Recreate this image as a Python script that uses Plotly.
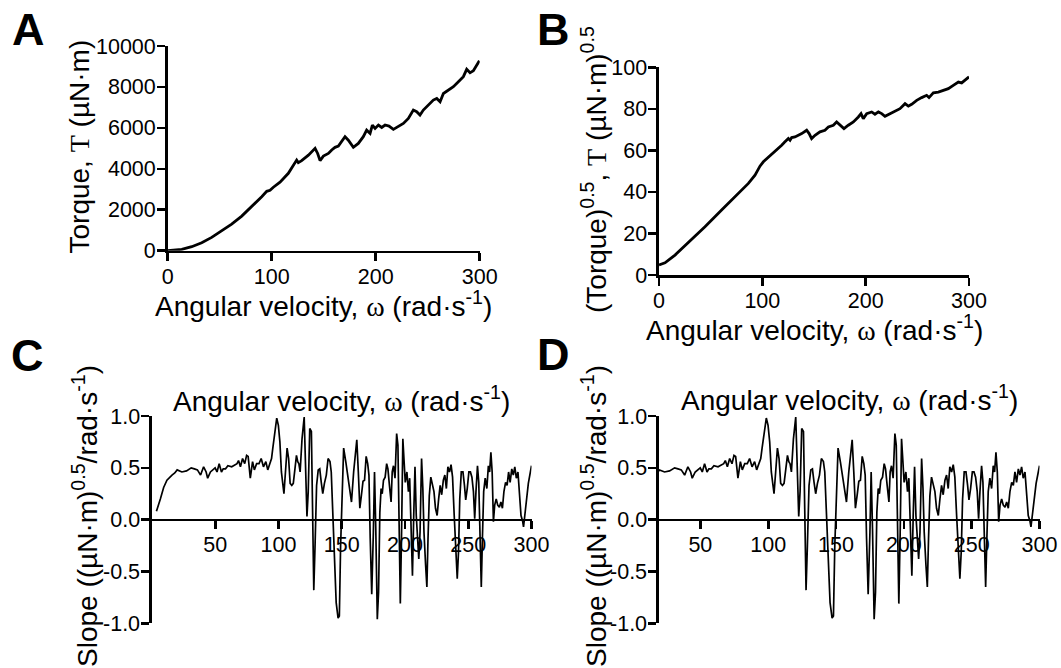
import plotly.graph_objects as go

# ---------------- data ----------------
# Panel A: torque vs angular velocity
omega_A = [0, 13.5, 23.1, 32.7, 42.3, 51.9, 61.5, 71.2, 80.8, 90.4, 95.2, 98.4, 101.6, 106,
           108, 116, 120.8, 124, 125.6, 128.8, 135.3, 141.7, 144.2, 146.5, 149.7, 154.5, 157.7,
           160.9, 164.1, 167.3, 170.5, 173.7, 178.5, 183.3, 188.1, 191.3, 194.6, 196.8, 199.4,
           202.6, 205.8, 209, 212.8, 217, 221.8, 226.6, 231.4, 236.2, 239.4, 242.6, 245.8,
           250.6, 255.4, 258.7, 261.9, 265.1, 269.9, 274.7, 279.5, 284.3, 287.5, 290.7, 293.9,
           297.1, 299.7]
torque_A = [0, 65, 195, 390, 650, 960, 1300, 1690, 2150, 2640, 2900, 2950, 3100, 3300,
            3350, 3780, 4180, 4430, 4300, 4400, 4670, 5000, 4750, 4400, 4620, 4750, 4920,
            5050, 5110, 5320, 5570, 5400, 5050, 5240, 5570, 5890, 5730, 6140, 5975,
            6140, 6020, 6140, 6090, 5925, 6090, 6220, 6460, 6870, 6790, 6630, 6870,
            7110, 7360, 7440, 7280, 7680, 7850, 8010, 8250, 8500, 8860, 8690, 8790,
            9070, 9280]

# Panel B: square root of torque vs angular velocity
omega_B = [0, 5.8, 15.5, 28.4, 44.5, 60.6, 76.8, 86.5, 92.9, 97.7, 101, 105.8, 112.3, 118.7,
           121.9, 125.2, 126.8, 128.4, 131.6, 138.1, 142.9, 145.3, 147.7, 151, 155.8, 160.6,
           163.9, 168.7, 171.9, 175.2, 179, 183.2, 188.1, 192.9, 195.5, 197.7, 201, 205.8,
           209, 212.3, 215.5, 218.7, 223.5, 228.4, 233.2, 238.1, 241.3, 244.5, 249.4, 254.2,
           259, 261.3, 265.5, 270.3, 275.2, 280, 284.8, 289.7, 292.9, 296.1, 300]
sqrt_torque_B = [4.8, 5.9, 9.6, 15.5, 23.2, 31.3, 39.3, 44.1, 48.1, 52.4, 54.5, 56.6, 59.3, 62.5,
                 64.1, 65.7, 64.9, 66.2, 66.5, 68.1, 69.7, 68.1, 65.7, 67.3, 68.9, 69.7,
                 71.3, 72.1, 73.7, 72.1, 70.5, 72.1, 73.7, 76.1, 77.7, 75.3, 77.7, 78.5,
                 77.4, 78.5, 77.7, 76.4, 77.7, 79.0, 80.1, 82.5, 81.3, 82.2, 84.1, 85.4,
                 86.5, 85.4, 87.7, 88.1, 88.9, 89.7, 91.3, 92.9, 92.5, 93.8, 95.4]

# Panels C and D: local slope of sqrt(torque) vs angular velocity
omega_slope = [3.5, 5.0, 6.6, 9.2, 11.8, 15.8, 18.0, 19.9, 23.6, 27.3, 31.0, 33.5, 35.9, 38.4,
               40.8, 42.8, 44.0, 46.2, 48.2, 49.9, 51.4, 53.1, 54.9, 56.3, 58.1, 60.0, 63.0,
               65.4, 67.2, 68.4, 69.9, 71.6, 73.3, 74.8, 76.0, 77.7, 79.5, 80.9, 82.7, 84.6,
               86.3, 88.1, 90.0, 91.5, 93.0, 94.5, 95.5, 96.9, 98.6, 99.9, 101.1, 102.3, 104.3,
               105.5, 106.8, 108.0, 109.2, 110.5, 111.7, 113.0, 114.2, 115.2, 116.1, 117.1,
               118.6, 120.3, 121.3, 122.5, 123.5, 124.7, 126.0, 126.9, 127.9, 128.9, 130.1,
               131.4, 132.6, 133.8, 135.0, 136.3, 137.8, 139.2, 140.7, 141.7, 142.9, 144.2,
               145.6, 147.1, 148.1, 149.1, 150.3, 151.5, 153.3, 155.7, 157.7, 159.4, 160.6,
               161.9, 163.1, 164.3, 165.6, 166.8, 168.0, 169.3, 170.5, 171.5, 172.5, 173.7,
               175.0, 175.9, 176.9, 178.1, 179.1, 180.1, 181.1, 182.0, 183.0, 184.3, 185.5,
               186.5, 187.7, 189.0, 189.9, 190.9, 192.1, 193.4, 194.4, 195.3, 196.3, 197.3,
               198.3, 199.3, 200.2, 201.5, 202.7, 203.7, 204.9, 205.9, 206.9, 207.9, 208.9,
               210.0, 210.9, 211.9, 213.1, 214.1, 215.0, 216.3, 217.3, 218.2, 219.2, 220.4,
               221.7, 222.9, 224.1, 225.4, 226.6, 227.8, 229.0, 230.3, 231.5, 232.7, 233.9,
               235.2, 236.4, 237.6, 238.9, 240.1, 241.3, 242.3, 243.3, 244.5, 245.8, 247.0,
               248.0, 249.2, 250.5, 251.7, 252.9, 254.1, 255.1, 256.1, 257.3, 258.3, 259.3,
               260.3, 261.2, 262.2, 263.4, 264.7, 265.9, 266.9, 267.9, 268.9, 269.9, 270.9,
               272.1, 273.3, 274.6, 275.8, 277.0, 278.2, 279.5, 280.7, 281.9, 283.1, 284.4,
               285.6, 286.8, 288.0, 289.3, 290.5, 291.7, 292.9, 293.7, 294.7, 295.7, 297.5,
               300.0]
slope = [0.08, 0.15, 0.20, 0.31, 0.38, 0.43, 0.45, 0.48, 0.46, 0.47, 0.50, 0.49, 0.48, 0.43,
         0.51, 0.46, 0.40, 0.46, 0.48, 0.50, 0.46, 0.54, 0.46, 0.49, 0.49, 0.52, 0.51,
         0.53, 0.54, 0.57, 0.51, 0.59, 0.54, 0.62, 0.61, 0.40, 0.56, 0.48, 0.54, 0.54,
         0.59, 0.51, 0.56, 0.48, 0.54, 0.59, 0.69, 0.82, 0.98, 0.91, 0.75, 0.46, 0.25,
         0.46, 0.69, 0.59, 0.35, 0.33, 0.35, 0.49, 0.62, 0.56, 0.54, 0.46,
         0.78, 0.99, 0.62, 0.03, 0.27, 0.88, 0.85, 0.01, -0.68, -0.25, 0.33,
         0.48, 0.49, 0.36, 0.25, 0.35, 0.43, 0.59, 0.56, 0.46, 0.04, -0.41,
         -0.80, -0.95, -0.93, -0.25, 0.14, 0.69, 0.55, 0.33, 0.17, 0.46, 0.62,
         0.77, 0.46, 0.11, 0.24, 0.37, 0.38, 0.61, 0.54, 0.43, -0.18, -0.72,
         -0.12, 0.46, -0.09, -0.96, -0.70, 0.07, 0.30, 0.25, 0.38, 0.41, 0.54,
         0.49, 0.33, 0.17, 0.46, 0.52, 0.40, 0.83, 0.72, -0.12, -0.81, -0.12,
         0.78, 0.56, 0.36, 0.46, 0.27, 0.40, -0.25, -0.54, 0.04, 0.51, 0.04,
         -0.18, -0.38, -0.12, 0.59, 0.30, -0.12, -0.44, -0.65, -0.18, 0.23, 0.41,
         0.33, 0.27, 0.11, 0.04, 0.20, 0.33, 0.24, 0.38, 0.43, 0.30, 0.51,
         0.46, 0.53, 0.41, 0.04, -0.28, -0.57, -0.31, 0.20, 0.46, 0.46, 0.33,
         0.19, 0.30, 0.46, 0.46, 0.41, 0.27, 0.01, 0.27, 0.52, 0.36, -0.18,
         -0.65, -0.18, 0.27, 0.40, 0.30, 0.52, 0.46, 0.65, 0.46, -0.02, 0.14,
         0.20, 0.14, 0.12, 0.17, 0.11, 0.27, 0.36, 0.33, 0.46, 0.36, 0.49,
         0.43, 0.51, 0.40, 0.46, 0.27, 0.04, -0.01, -0.07, 0.04, 0.14, 0.35,
         0.52]

xticks_AB = [0, 100, 200, 300]
yticks_A = [0, 2000, 4000, 6000, 8000, 10000]
yticklabels_A = ["0", "2000", "4000", "6000", "8000", "10000"]
yticks_B = [0, 20, 40, 60, 80, 100]
xticks_CD = [50, 100, 150, 200, 250, 300]
yticks_CD = [-1.0, -0.5, 0.0, 0.5, 1.0]
yticklabels_CD = ["-1.0", "-0.5", "0.0", "0.5", "1.0"]

# ---------------- figure ----------------
W, H = 1061, 668
FONT = "Liberation Sans, Arial, sans-serif"
SERIF = "Liberation Serif"


def px(x):
    return x / W


def py(y):
    return 1 - y / H


fig = go.Figure()
fig.add_trace(go.Scatter(x=omega_A, y=torque_A, mode="lines", xaxis="x", yaxis="y",
                         line=dict(color="black", width=2.8), showlegend=False))
fig.add_trace(go.Scatter(x=omega_B, y=sqrt_torque_B, mode="lines", xaxis="x2", yaxis="y2",
                         line=dict(color="black", width=2.8), showlegend=False))
fig.add_trace(go.Scatter(x=omega_slope, y=slope, mode="lines", xaxis="x3", yaxis="y3",
                         line=dict(color="black", width=1.7), showlegend=False))
fig.add_trace(go.Scatter(x=omega_slope, y=slope, mode="lines", xaxis="x4", yaxis="y4",
                         line=dict(color="black", width=1.7), showlegend=False))

TICK_SIZE = 21.5
axis_common = dict(showline=True, linecolor="black", linewidth=2.6, ticks="outside",
                   ticklen=8, tickwidth=2.6, tickcolor="black", showgrid=False,
                   zeroline=False, automargin=False, fixedrange=True,
                   ticklabelstandoff=-3,
                   tickfont=dict(family=FONT, size=TICK_SIZE, color="black"))

# domains in pixels
A_x = (167.7, 479.7); A_y = (46, 250.7)
B_x = (659, 969); B_y = (67.3, 275)
C_x = (152, 531.5); CD_y = (416, 623.3)
D_x = (659, 1039.5)

zero_pos = py((CD_y[0] + CD_y[1]) / 2)

fig.update_layout(
    template="none",
    width=W, height=H, margin=dict(l=0, r=0, t=0, b=0, pad=0, autoexpand=False),
    paper_bgcolor="white", plot_bgcolor="white",
    font=dict(family=FONT, color="black"),
    hovermode=False,
    xaxis=dict(domain=[px(A_x[0]), px(A_x[1])], anchor="y", range=[0, 300],
               tickvals=xticks_AB, **axis_common),
    yaxis=dict(domain=[py(A_y[1]), py(A_y[0])], anchor="x", range=[0, 10000],
               tickvals=yticks_A, ticktext=yticklabels_A, **axis_common),
    xaxis2=dict(domain=[px(B_x[0]), px(B_x[1])], anchor="y2", range=[0, 300],
                tickvals=xticks_AB, **axis_common),
    yaxis2=dict(domain=[py(B_y[1]), py(B_y[0])], anchor="x2", range=[0, 100],
                tickvals=yticks_B, **axis_common),
    xaxis3=dict(domain=[px(C_x[0]), px(C_x[1])], anchor="free", position=zero_pos,
                range=[0, 300], tickvals=xticks_CD, **axis_common),
    yaxis3=dict(domain=[py(CD_y[1]), py(CD_y[0])], anchor="x3", range=[-1, 1],
                tickvals=yticks_CD, ticktext=yticklabels_CD, **axis_common),
    xaxis4=dict(domain=[px(D_x[0]), px(D_x[1])], anchor="free", position=zero_pos,
                range=[19.5, 300], tickvals=xticks_CD, **axis_common),
    yaxis4=dict(domain=[py(CD_y[1]), py(CD_y[0])], anchor="x4", range=[-1, 1],
                tickvals=yticks_CD, ticktext=yticklabels_CD, **axis_common),
)

omega = f"<span style='font-family:{SERIF}'>ω</span>"
tau = f"<span style='font-family:{SERIF}'>T</span>"
xtitle = f"Angular velocity, {omega} (rad·s<sup>-1</sup>)"
ytitle_A = f"Torque, {tau} (µN·m)"
ytitle_B = f"(Torque)<sup>0.5</sup>, {tau} (µN·m)<sup>0.5</sup>"
ytitle_CD = "Slope ((µN·m)<sup>0.5</sup>/rad·s<sup>-1</sup>)"

TITLE_SIZE = 28
ann = []


def add_text(text, x, y, size, angle=0, bold=False, xanchor="center", yanchor="middle"):
    ann.append(dict(text=f"<b>{text}</b>" if bold else text, x=px(x), y=py(y),
                    xref="paper", yref="paper", showarrow=False, textangle=angle,
                    xanchor=xanchor, yanchor=yanchor,
                    font=dict(family=FONT, size=size, color="black")))


# x titles
add_text(xtitle, (A_x[0] + A_x[1]) / 2, 304, TITLE_SIZE)
add_text(xtitle, (B_x[0] + B_x[1]) / 2, 328, TITLE_SIZE)
add_text(xtitle, (C_x[0] + C_x[1]) / 2, 399, TITLE_SIZE)
add_text(xtitle, (D_x[0] + D_x[1]) / 2, 398, TITLE_SIZE)
# y titles
add_text(ytitle_A, 79, 146.5, TITLE_SIZE, angle=-90)
add_text(ytitle_B, 594, 170, TITLE_SIZE, angle=-90)
add_text(ytitle_CD, 85, 516, TITLE_SIZE, angle=-90)
add_text(ytitle_CD, 594, 516, TITLE_SIZE, angle=-90)
# panel letters
add_text("A", 28, 30, 45, bold=True)
add_text("B", 553, 30, 45, bold=True)
add_text("C", 27, 355, 45, bold=True)
add_text("D", 553, 354, 45, bold=True)

fig.update_layout(annotations=ann)
fig.write_html("out.html",
               config={"displayModeBar": False, "staticPlot": True},
               post_script="document.body.style.margin='0';document.body.style.overflow='hidden';")
